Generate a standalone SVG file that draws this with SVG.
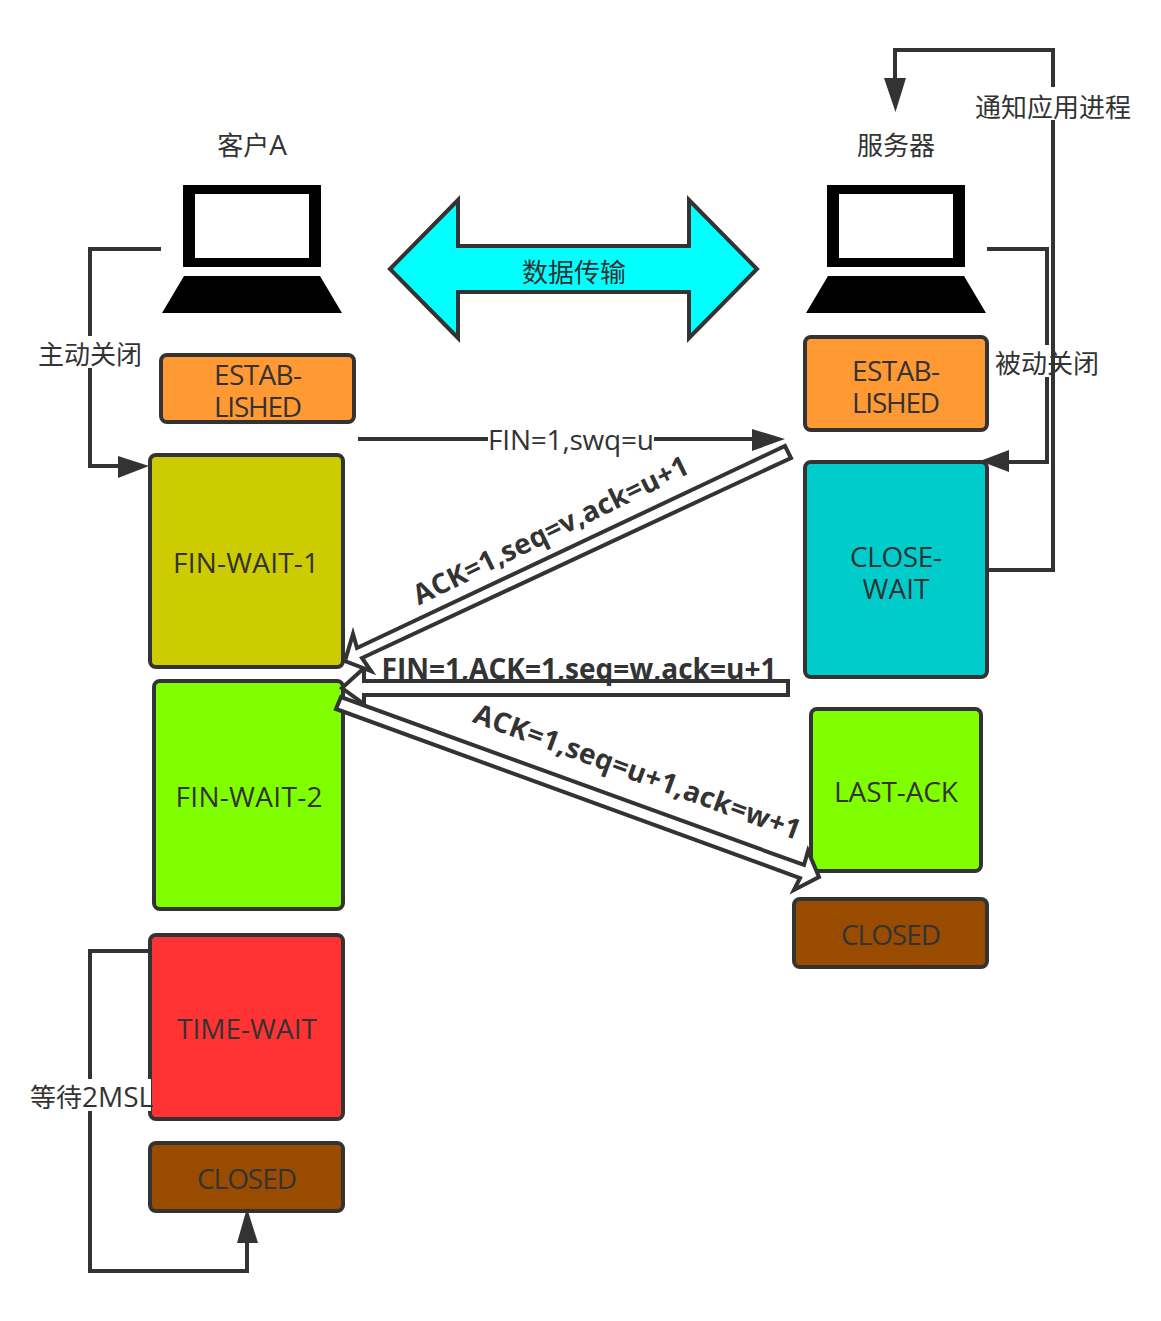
<svg xmlns="http://www.w3.org/2000/svg" width="1161" height="1321" viewBox="0 0 1161 1321">
<style>
text{font-family:"Open Sans","Noto Sans CJK SC",sans-serif;font-size:28px;fill:#333;text-anchor:middle}
.z{font-size:26px}
.b{font-weight:700}
.n{stroke:#333;stroke-width:4}
.c{fill:none;stroke:#333;stroke-width:4}
.f{fill:#333}
.h{fill:#fff;stroke:#333;stroke-width:4}
.bg{fill:#fff}
</style>
<defs><filter id="soft" x="-5%" y="-5%" width="110%" height="110%"><feGaussianBlur stdDeviation="0.6"/></filter></defs>
<rect width="1161" height="1321" fill="#fff"/>
<g id="flow">
<path d="M390 269L458 200V246H689V200L757 269L689 338V292H458V338Z" fill="#0ff" stroke="#333" stroke-width="4"/>
<text class="z" x="574" y="282">数据传输</text>
</g>
<g id="client">
<g filter="url(#soft)"><path d="M183 185H321V267H183ZM195 194V258H309V194Z" fill-rule="evenodd"/><path d="M184 276H320L342 313H162Z"/></g>
<text class="z" x="252" y="155">客户<tspan font-size="28">A</tspan></text>
</g>
<g id="server">
<g filter="url(#soft)"><path d="M827 185H965V267H827ZM839 194V258H953V194Z" fill-rule="evenodd"/><path d="M828 276H964L986 313H806Z"/></g>
<text class="z" x="896" y="155">服务器</text>
</g>
<g id="estab-client"><rect class="n" x="161" y="355" width="193" height="67" rx="6" fill="#f93"/><text><tspan x="258" y="385" textLength="88">ESTAB-</tspan><tspan x="258" y="417" textLength="88">LISHED</tspan></text></g>
<g id="estab-server"><rect class="n" x="805" y="337" width="182" height="93" rx="6" fill="#f93"/><text><tspan x="896" y="381" textLength="88">ESTAB-</tspan><tspan x="896" y="413" textLength="88">LISHED</tspan></text></g>
<g id="fin-wait-1"><rect class="n" x="150" y="455" width="193" height="212" rx="6" fill="#cc0"/><text x="246" y="573" textLength="146">FIN-WAIT-1</text></g>
<g id="fin-wait-2"><rect class="n" x="154" y="681" width="189" height="228" rx="6" fill="#80ff00"/><text x="249" y="807" textLength="147">FIN-WAIT-2</text></g>
<g id="time-wait"><rect class="n" x="150" y="935" width="193" height="184" rx="6" fill="#f33"/><text x="247" y="1039" textLength="140">TIME-WAIT</text></g>
<g id="closed-client"><rect class="n" x="150" y="1143" width="193" height="68" rx="6" fill="#994c00"/><text x="247" y="1189" textLength="100">CLOSED</text></g>
<g id="close-wait"><rect class="n" x="805" y="462" width="182" height="215" rx="6" fill="#0cc"/><text><tspan x="896" y="567" textLength="92">CLOSE-</tspan><tspan x="896" y="599" textLength="67">WAIT</tspan></text></g>
<g id="last-ack"><rect class="n" x="811" y="709" width="170" height="162" rx="6" fill="#80ff00"/><text x="896" y="802" textLength="124">LAST-ACK</text></g>
<g id="closed-server"><rect class="n" x="794" y="899" width="193" height="68" rx="6" fill="#994c00"/><text x="891" y="945" textLength="100">CLOSED</text></g>
<g id="connectors">
<path class="c" d="M161 249H90V466H122"/><path class="f" d="M149 466L118 456V478Z"/>
<path class="c" d="M987 249H1047V462H1008"/><path class="f" d="M980 461L1009 450V472Z"/>
<rect class="bg" x="995" y="345" width="104" height="32"/>
<path class="c" d="M988 570H1053V50H895V82"/><path class="f" d="M895.500 112L884 78H906Z"/>
<path class="c" d="M150 951H90V1271H247V1240"/><path class="f" d="M247 1208L237 1243H258Z"/>
<path class="c" d="M358 439H755"/><path class="f" d="M785 439L752 429V451Z"/>
<rect class="bg" x="488" y="425" width="166" height="30"/>
<rect class="bg" x="36" y="336" width="108" height="32"/>
<rect class="bg" x="974" y="87" width="158" height="33"/>
<rect class="bg" x="28" y="1079" width="123" height="32"/>
<path class="h" d="M788 681V695H364V704L342 688L364 668V681Z"/>
<path class="h" d="M785 446L791 458L362 658L371 671L345 661L353 634L357 648Z"/>
<path class="h" d="M341 697L336 709L800 878L794 890L819 877L808 851L804 865Z"/>
</g>
<g id="labels">
<text class="z" x="90" y="364">主动关闭</text>
<text class="z" x="1047" y="373">被动关闭</text>
<text class="z" x="1053" y="117">通知应用进程</text>
<text class="z" x="30" y="1107" style="text-anchor:start">等待<tspan font-size="28">2MSL</tspan></text>
<text x="571" y="450" textLength="166">FIN=1,swq=u</text>
<text class="b" x="579" y="679" textLength="395">FIN=1,ACK=1,seq=w,ack=u+1</text>
<text class="b" transform="translate(555 539) rotate(-26)" textLength="303">ACK=1,seq=v,ack=u+1</text>
<text class="b" transform="translate(634 781) rotate(20)" textLength="346">ACK=1,seq=u+1,ack=w+1</text>
</g>
</svg>
